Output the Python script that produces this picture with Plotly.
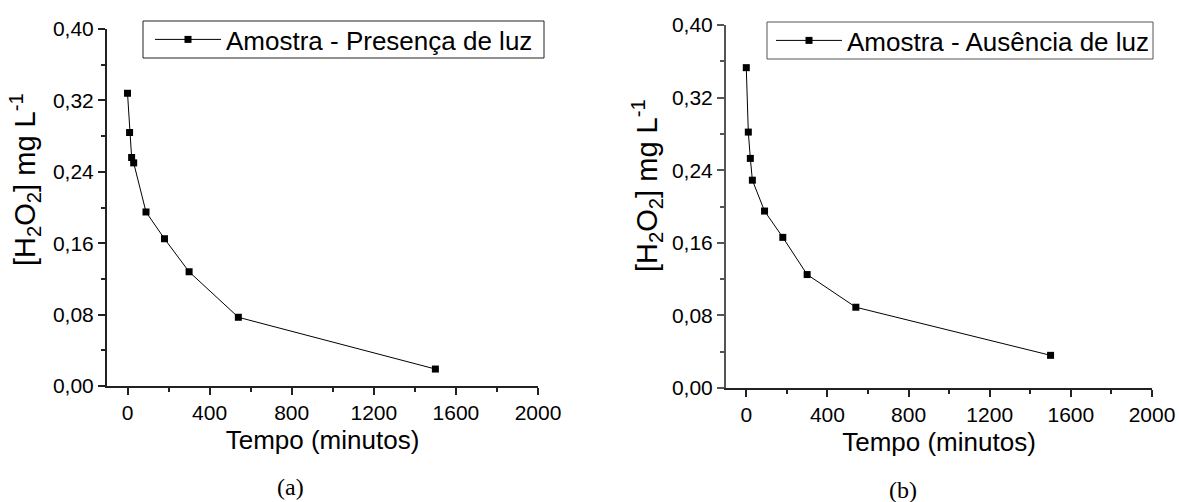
import plotly.graph_objects as go

# ---- data ----
tempo = [0, 10, 20, 30, 90, 180, 300, 540, 1500]
presenca_luz = [0.328, 0.284, 0.256, 0.250, 0.195, 0.165, 0.128, 0.077, 0.019]
ausencia_luz = [0.353, 0.282, 0.253, 0.229, 0.195, 0.166, 0.125, 0.089, 0.036]

nome_a = "Amostra - Presença de luz"
nome_b = "Amostra - Ausência de luz"

x_ticks = [0, 400, 800, 1200, 1600, 2000]
x_minor = [200, 600, 1000, 1400, 1800]
y_ticks = [0.00, 0.08, 0.16, 0.24, 0.32, 0.40]
y_minor = [0.04, 0.12, 0.20, 0.28, 0.36]

x_title = "Tempo (minutos)"
y_title = "[H<sub>2</sub>O<sub>2</sub>] mg L<sup>-1</sup>"
panel_labels = ["(a)", "(b)"]

W, H = 1179, 502
SANS = "Arial"
SERIF = "Times New Roman"


def px(v):
    return v / W


def py(v):
    return 1 - v / H


fig = go.Figure()

line_style = dict(color="black", width=1)
marker_style = dict(symbol="square", size=7, color="black")

fig.add_trace(go.Scatter(
    x=tempo, y=presenca_luz, mode="lines+markers", name=nome_a,
    xaxis="x", yaxis="y", line=line_style, marker=marker_style,
    legend="legend"))
fig.add_trace(go.Scatter(
    x=tempo, y=ausencia_luz, mode="lines+markers", name=nome_b,
    xaxis="x2", yaxis="y2", line=line_style, marker=marker_style,
    legend="legend2"))


def xaxis(domain, anchor, color):
    return dict(
        domain=domain, anchor=anchor, range=[-100, 2000], automargin=False,
        tickmode="array", tickvals=x_ticks,
        minor=dict(tickmode="array", tickvals=x_minor, ticks="outside",
                   ticklen=4, tickwidth=1.5, tickcolor=color, showgrid=False),
        showgrid=False, zeroline=False, showline=True, linewidth=2,
        linecolor=color, ticks="outside", ticklen=7, tickwidth=1.5,
        tickcolor=color, tickfont=dict(family=SANS, size=21, color="black"),
        title=dict(text=x_title, font=dict(family=SANS, size=26, color="black"),
                   standoff=8),
    )


def yaxis(domain, anchor, color):
    return dict(
        domain=domain, anchor=anchor, range=[0, 0.40], automargin=False,
        tickmode="array", tickvals=y_ticks, tickformat=".2f",
        minor=dict(tickmode="array", tickvals=y_minor, ticks="outside",
                   ticklen=4, tickwidth=1.5, tickcolor=color, showgrid=False),
        showgrid=False, zeroline=False, showline=True, linewidth=2,
        linecolor=color, ticks="outside", ticklen=7, tickwidth=1.5,
        tickcolor=color, tickfont=dict(family=SANS, size=21, color="black"),
    )


legend_common = dict(
    xanchor="left", yanchor="middle", bgcolor="rgba(0,0,0,0)",
    borderwidth=0, font=dict(family=SANS, size=26, color="black"),
    itemwidth=66, tracegroupgap=0)

# legend frames (decoration around the legends)
frames = [
    dict(type="rect", xref="paper", yref="paper",
         x0=px(143), x1=px(544), y0=py(58), y1=py(21),
         line=dict(color="#222", width=1), fillcolor="rgba(0,0,0,0)", layer="below"),
    dict(type="rect", xref="paper", yref="paper",
         x0=px(767), x1=px(1153), y0=py(59), y1=py(22),
         line=dict(color="#555", width=1), fillcolor="rgba(0,0,0,0)", layer="below"),
]

fig.update_layout(
    width=W, height=H, autosize=False,
    margin=dict(l=0, r=0, t=0, b=0, pad=0, autoexpand=False),
    paper_bgcolor="white", plot_bgcolor="white",
    separators=",.",
    showlegend=True,
    xaxis=xaxis([px(107), px(538)], "y", "#222"),
    yaxis=yaxis([py(386), py(29)], "x", "#222"),
    xaxis2=xaxis([px(726), px(1152)], "y2", "#222"),
    yaxis2=yaxis([py(388), py(25)], "x2", "#555"),
    legend=dict(x=px(150), y=py(39.5), **legend_common),
    legend2=dict(x=px(771), y=py(40.5), **legend_common),
    shapes=frames,
    annotations=[
        dict(text=y_title, x=px(25), y=py(180), xref="paper", yref="paper",
             textangle=-90, showarrow=False, xanchor="center", yanchor="middle",
             font=dict(family=SANS, size=29, color="black")),
        dict(text=y_title, x=px(647), y=py(186), xref="paper", yref="paper",
             textangle=-90, showarrow=False, xanchor="center", yanchor="middle",
             font=dict(family=SANS, size=29, color="black")),
        dict(text=panel_labels[0], x=px(290), y=py(487), xref="paper", yref="paper",
             showarrow=False, xanchor="center", yanchor="middle",
             font=dict(family=SERIF, size=24, color="black")),
        dict(text=panel_labels[1], x=px(903), y=py(490), xref="paper", yref="paper",
             showarrow=False, xanchor="center", yanchor="middle",
             font=dict(family=SERIF, size=24, color="black")),
    ],
)

fig.write_html(
    "out.html",
    config={"displayModeBar": False},
    post_script="document.body.style.margin='0';document.body.style.padding='0';",
)
